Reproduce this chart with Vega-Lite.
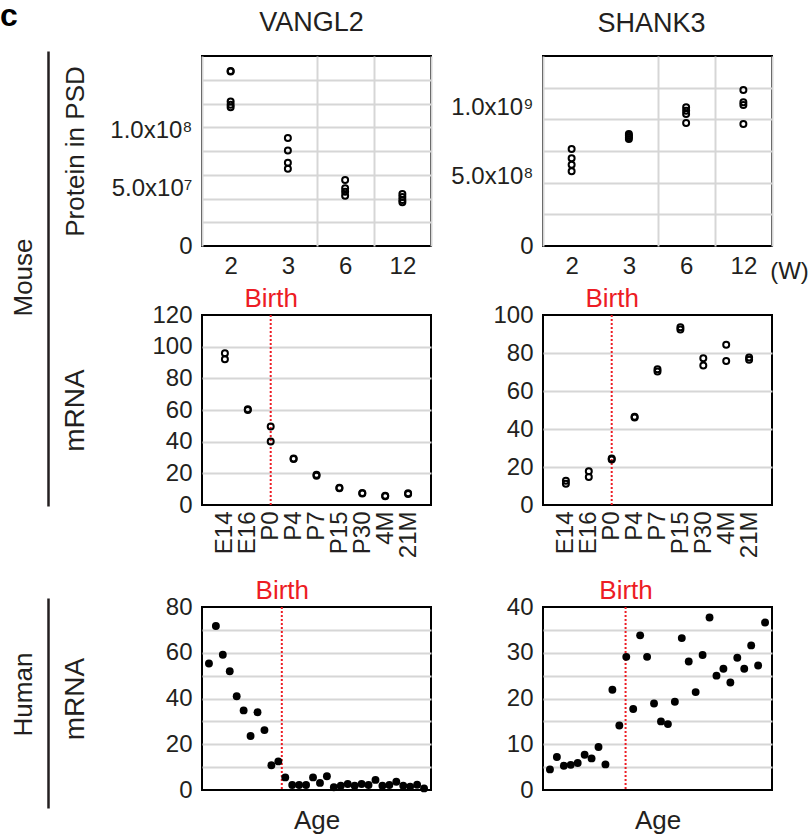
{
  "$schema": "https://vega.github.io/schema/vega-lite/v6.json",
  "padding": {"left": 0, "top": 0, "right": 0, "bottom": 0},
  "background": "white",
  "datasets": {
    "vangl2_psd": [
      {"week": 2, "protein": 152000000}, {"week": 2, "protein": 151500000}, {"week": 2, "protein": 125500000}, {"week": 2, "protein": 122600000}, {"week": 2, "protein": 120600000},
      {"week": 3, "protein": 93700000}, {"week": 3, "protein": 82900000}, {"week": 3, "protein": 72200000}, {"week": 3, "protein": 67000000},
      {"week": 6, "protein": 57400000}, {"week": 6, "protein": 50200000}, {"week": 6, "protein": 47200000}, {"week": 6, "protein": 43700000},
      {"week": 12, "protein": 45200000}, {"week": 12, "protein": 42600000}, {"week": 12, "protein": 40000000}, {"week": 12, "protein": 38000000}
    ],
    "shank3_psd": [
      {"week": 2, "protein": 699000000}, {"week": 2, "protein": 632000000}, {"week": 2, "protein": 586000000}, {"week": 2, "protein": 539000000},
      {"week": 3, "protein": 808000000}, {"week": 3, "protein": 795000000}, {"week": 3, "protein": 785000000}, {"week": 3, "protein": 772000000},
      {"week": 6, "protein": 1000000000}, {"week": 6, "protein": 976000000}, {"week": 6, "protein": 952000000}, {"week": 6, "protein": 887000000},
      {"week": 12, "protein": 1125000000}, {"week": 12, "protein": 1036000000}, {"week": 12, "protein": 1017000000}, {"week": 12, "protein": 880000000}
    ],
    "vangl2_mouse_mrna": [
      {"stage": "E14", "mrna": 95.8}, {"stage": "E14", "mrna": 92.1},
      {"stage": "E16", "mrna": 60.5}, {"stage": "E16", "mrna": 60.0},
      {"stage": "P0", "mrna": 49.6}, {"stage": "P0", "mrna": 40.1},
      {"stage": "P4", "mrna": 29.4}, {"stage": "P4", "mrna": 29.0},
      {"stage": "P7", "mrna": 19.1}, {"stage": "P7", "mrna": 18.5},
      {"stage": "P15", "mrna": 10.9}, {"stage": "P15", "mrna": 10.6},
      {"stage": "P30", "mrna": 7.6}, {"stage": "P30", "mrna": 7.3},
      {"stage": "4M", "mrna": 5.9}, {"stage": "4M", "mrna": 5.6},
      {"stage": "21M", "mrna": 7.4}, {"stage": "21M", "mrna": 6.9}
    ],
    "shank3_mouse_mrna": [
      {"stage": "E14", "mrna": 12.8}, {"stage": "E14", "mrna": 11.2},
      {"stage": "E16", "mrna": 17.8}, {"stage": "E16", "mrna": 14.7},
      {"stage": "P0", "mrna": 24.5}, {"stage": "P0", "mrna": 24.0},
      {"stage": "P4", "mrna": 46.5}, {"stage": "P4", "mrna": 46.0},
      {"stage": "P7", "mrna": 71.4}, {"stage": "P7", "mrna": 70.2},
      {"stage": "P15", "mrna": 93.6}, {"stage": "P15", "mrna": 92.4},
      {"stage": "P30", "mrna": 77.3}, {"stage": "P30", "mrna": 73.4},
      {"stage": "4M", "mrna": 84.4}, {"stage": "4M", "mrna": 75.8},
      {"stage": "21M", "mrna": 77.6}, {"stage": "21M", "mrna": 76.4}
    ],
    "birth_mouse": [{"stage": "P0", "event": "Birth"}],
    "vangl2_human_mrna": [
      {"sample": 1, "mrna": 55.3}, {"sample": 2, "mrna": 71.7}, {"sample": 3, "mrna": 59.1}, {"sample": 4, "mrna": 51.9},
      {"sample": 5, "mrna": 41.0}, {"sample": 6, "mrna": 34.8}, {"sample": 7, "mrna": 23.6}, {"sample": 8, "mrna": 34.0},
      {"sample": 9, "mrna": 26.2}, {"sample": 10, "mrna": 10.8}, {"sample": 11, "mrna": 12.5}, {"sample": 12, "mrna": 5.5},
      {"sample": 13, "mrna": 2.2}, {"sample": 14, "mrna": 2.2}, {"sample": 15, "mrna": 2.2}, {"sample": 16, "mrna": 5.5},
      {"sample": 17, "mrna": 3.1}, {"sample": 18, "mrna": 6.0}, {"sample": 19, "mrna": 1.2}, {"sample": 20, "mrna": 1.9},
      {"sample": 21, "mrna": 2.6}, {"sample": 22, "mrna": 1.9}, {"sample": 23, "mrna": 2.6}, {"sample": 24, "mrna": 2.2},
      {"sample": 25, "mrna": 4.4}, {"sample": 26, "mrna": 1.9}, {"sample": 27, "mrna": 2.2}, {"sample": 28, "mrna": 3.6},
      {"sample": 29, "mrna": 1.9}, {"sample": 30, "mrna": 1.5}, {"sample": 31, "mrna": 2.3}, {"sample": 32, "mrna": 0.7}
    ],
    "shank3_human_mrna": [
      {"sample": 1, "mrna": 4.5}, {"sample": 2, "mrna": 7.2}, {"sample": 3, "mrna": 5.3}, {"sample": 4, "mrna": 5.5},
      {"sample": 5, "mrna": 5.9}, {"sample": 6, "mrna": 7.7}, {"sample": 7, "mrna": 6.9}, {"sample": 8, "mrna": 9.4},
      {"sample": 9, "mrna": 5.6}, {"sample": 10, "mrna": 21.9}, {"sample": 11, "mrna": 14.1}, {"sample": 12, "mrna": 29.1},
      {"sample": 13, "mrna": 17.7}, {"sample": 14, "mrna": 33.8}, {"sample": 15, "mrna": 29.1}, {"sample": 16, "mrna": 18.9},
      {"sample": 17, "mrna": 15.0}, {"sample": 18, "mrna": 14.4}, {"sample": 19, "mrna": 19.3}, {"sample": 20, "mrna": 33.2},
      {"sample": 21, "mrna": 28.1}, {"sample": 22, "mrna": 21.4}, {"sample": 23, "mrna": 29.5}, {"sample": 24, "mrna": 37.7},
      {"sample": 25, "mrna": 25.0}, {"sample": 26, "mrna": 26.5}, {"sample": 27, "mrna": 23.5}, {"sample": 28, "mrna": 28.9},
      {"sample": 29, "mrna": 26.5}, {"sample": 30, "mrna": 31.6}, {"sample": 31, "mrna": 27.2}, {"sample": 32, "mrna": 36.6}
    ],
    "birth_human_vangl2": [{"sample": 11.5, "event": "Birth"}],
    "birth_human_shank3": [{"sample": 11.9, "event": "Birth"}],
    "species_mouse": [{"species": "Mouse"}],
    "species_human": [{"species": "Human"}]
  },
  "spacing": 17,
  "vconcat": [
    {
      "spacing": 7,
      "hconcat": [
        {
          "width": 4,
          "height": 450,
          "view": {"stroke": null},
          "title": {"text": "c", "anchor": "start", "frame": "group", "dx": -48, "offset": -2, "baseline": "alphabetic", "fontSize": 32, "fontWeight": "bold", "color": "#000000"},
          "data": {"name": "species_mouse"},
          "mark": {"type": "point", "opacity": 0},
          "encoding": {
            "y": {"datum": 0.5, "type": "quantitative", "scale": {"domain": [0, 1], "range": [450, -5], "nice": false},
              "axis": {"title": "Mouse", "labels": false, "ticks": false, "grid": false, "domain": true, "domainColor": "#231f20", "domainWidth": 2.5, "titleX": -25, "titleY": 221, "titleBaseline": "middle"}}
          }
        },
        {
          "columns": 2,
          "bounds": "flush",
          "spacing": {"row": 69, "column": 112},
          "concat": [
            {
              "width": 229, "height": 190,
              "title": {"text": "VANGL2", "offset": 7, "dx": -5},
              "data": {"name": "vangl2_psd"},
              "mark": {"type": "point", "shape": "circle", "filled": false, "color": "#000000", "strokeWidth": 2, "size": 36, "opacity": 1},
              "encoding": {
                "x": {"field": "week", "type": "ordinal", "scale": {"type": "band", "paddingInner": 0, "paddingOuter": 0},
                  "axis": {"title": null, "labelAngle": 0, "tickBand": "extent", "labelPadding": 8,
                    "gridOpacity": {"condition": {"test": "datum.value == 2", "value": 0}, "value": 1}}},
                "y": {"field": "protein", "type": "quantitative", "scale": {"domain": [0, 165000000], "nice": false},
                  "axis": {"title": "Protein in PSD", "titleX": -127, "titleBaseline": "middle",
                    "values": [0, 20625000, 41250000, 50000000, 61875000, 82500000, 100000000, 103125000, 123750000, 144375000, 165000000],
                    "labelExpr": "datum.value == 0 ? '0' : datum.value == 50000000 ? '5.0x10⁷' : datum.value == 100000000 ? '1.0x10⁸' : ''",
                    "gridOpacity": {"condition": {"test": "datum.value == 0 || datum.value == 50000000 || datum.value == 100000000 || datum.value == 165000000", "value": 0}, "value": 1}}}
              }
            },
            {
              "width": 229, "height": 190,
              "title": {"text": "SHANK3", "offset": 6, "dx": -6},
              "data": {"name": "shank3_psd"},
              "mark": {"type": "point", "shape": "circle", "filled": false, "color": "#000000", "strokeWidth": 2, "size": 36, "opacity": 1},
              "encoding": {
                "x": {"field": "week", "type": "ordinal", "scale": {"type": "band", "paddingInner": 0, "paddingOuter": 0},
                  "axis": {"title": "(W)", "titleX": 246, "titleY": 25, "titleAngle": 0, "titleAlign": "center", "titleBaseline": "middle", "titleFontSize": 24,
                    "labelAngle": 0, "tickBand": "extent", "labelPadding": 8,
                    "gridOpacity": {"condition": {"test": "datum.value == 2", "value": 0}, "value": 1}}},
                "y": {"field": "protein", "type": "quantitative", "scale": {"domain": [0, 1370000000], "nice": false},
                  "axis": {"title": null,
                    "values": [0, 228333333, 456666667, 500000000, 685000000, 913333333, 1000000000, 1141666667, 1370000000],
                    "labelExpr": "datum.value == 0 ? '0' : datum.value == 500000000 ? '5.0x10⁸' : datum.value == 1000000000 ? '1.0x10⁹' : ''",
                    "gridOpacity": {"condition": {"test": "datum.value == 0 || datum.value == 500000000 || datum.value == 1000000000 || datum.value == 1370000000", "value": 0}, "value": 1}}}
              }
            },
            {
              "width": 229, "height": 190,
              "layer": [
                {
                  "data": {"name": "birth_mouse"},
                  "mark": {"type": "rule", "color": "#ed1c24", "strokeWidth": 2, "strokeDash": [2, 2]},
                  "encoding": {
                    "x": {"field": "stage", "type": "ordinal", "scale": {"type": "point", "padding": 1, "domain": ["E14", "E16", "P0", "P4", "P7", "P15", "P30", "4M", "21M"]},
                      "axis": {"orient": "top", "values": ["P0"], "labelExpr": "'Birth'", "labelColor": "#ed1c24", "labelFontSize": 26, "labelAngle": 0, "labelPadding": 4, "grid": false, "title": null}}
                  }
                },
                {
                  "data": {"name": "vangl2_mouse_mrna"},
                  "mark": {"type": "point", "shape": "circle", "filled": false, "color": "#000000", "strokeWidth": 2, "size": 36, "opacity": 1},
                  "encoding": {
                    "x": {"field": "stage", "type": "ordinal", "scale": {"type": "point", "padding": 1, "domain": ["E14", "E16", "P0", "P4", "P7", "P15", "P30", "4M", "21M"]},
                      "axis": {"orient": "bottom", "title": null, "labelAngle": 270, "labelPadding": 6,
                        "gridOpacity": {"condition": {"test": "indexof(['E16','P4','P15','4M'], datum.value) >= 0", "value": 1}, "value": 0}}},
                    "y": {"field": "mrna", "type": "quantitative", "scale": {"domain": [0, 120], "nice": false},
                      "axis": {"title": "mRNA", "titleFontSize": 28, "titleX": -127, "titleBaseline": "middle", "values": [0, 20, 40, 60, 80, 100, 120],
                        "gridOpacity": {"condition": {"test": "datum.value == 0 || datum.value == 120", "value": 0}, "value": 1}}}
                  }
                }
              ],
              "resolve": {"axis": {"x": "independent"}}
            },
            {
              "width": 229, "height": 190,
              "layer": [
                {
                  "data": {"name": "birth_mouse"},
                  "mark": {"type": "rule", "color": "#ed1c24", "strokeWidth": 2, "strokeDash": [2, 2]},
                  "encoding": {
                    "x": {"field": "stage", "type": "ordinal", "scale": {"type": "point", "padding": 1, "domain": ["E14", "E16", "P0", "P4", "P7", "P15", "P30", "4M", "21M"]},
                      "axis": {"orient": "top", "values": ["P0"], "labelExpr": "'Birth'", "labelColor": "#ed1c24", "labelFontSize": 26, "labelAngle": 0, "labelPadding": 4, "grid": false, "title": null}}
                  }
                },
                {
                  "data": {"name": "shank3_mouse_mrna"},
                  "mark": {"type": "point", "shape": "circle", "filled": false, "color": "#000000", "strokeWidth": 2, "size": 36, "opacity": 1},
                  "encoding": {
                    "x": {"field": "stage", "type": "ordinal", "scale": {"type": "point", "padding": 1, "domain": ["E14", "E16", "P0", "P4", "P7", "P15", "P30", "4M", "21M"]},
                      "axis": {"orient": "bottom", "title": null, "labelAngle": 270, "labelPadding": 6,
                        "gridOpacity": {"condition": {"test": "indexof(['E16','P4','P15','4M'], datum.value) >= 0", "value": 1}, "value": 0}}},
                    "y": {"field": "mrna", "type": "quantitative", "scale": {"domain": [0, 100], "nice": false},
                      "axis": {"title": null, "values": [0, 20, 40, 60, 80, 100],
                        "gridOpacity": {"condition": {"test": "datum.value == 0 || datum.value == 100", "value": 0}, "value": 1}}}
                  }
                }
              ],
              "resolve": {"axis": {"x": "independent"}}
            }
          ]
        }
      ]
    },
    {
      "spacing": 7,
      "hconcat": [
        {
          "width": 4,
          "height": 183,
          "view": {"stroke": null},
          "data": {"name": "species_human"},
          "mark": {"type": "point", "opacity": 0},
          "encoding": {
            "y": {"datum": 0.5, "type": "quantitative", "scale": {"domain": [0, 1], "range": [201, -9], "nice": false},
              "axis": {"title": "Human", "labels": false, "ticks": false, "grid": false, "domain": true, "domainColor": "#231f20", "domainWidth": 2.5, "titleX": -25, "titleY": 87, "titleBaseline": "middle"}}
          }
        },
        {
          "bounds": "flush",
          "spacing": 112,
          "hconcat": [
            {
              "width": 229, "height": 183,
              "layer": [
                {
                  "data": {"name": "birth_human_vangl2"},
                  "mark": {"type": "rule", "color": "#ed1c24", "strokeWidth": 2, "strokeDash": [2, 2]},
                  "encoding": {
                    "x": {"field": "sample", "type": "quantitative", "scale": {"domain": [0, 33], "nice": false, "zero": false},
                      "axis": {"orient": "top", "values": [11.5], "labelExpr": "'Birth'", "labelColor": "#ed1c24", "labelFontSize": 26, "labelPadding": 4, "grid": false, "title": null}}
                  }
                },
                {
                  "data": {"name": "vangl2_human_mrna"},
                  "mark": {"type": "circle", "color": "#000000", "size": 62, "opacity": 1},
                  "encoding": {
                    "x": {"field": "sample", "type": "quantitative", "scale": {"domain": [0, 33], "nice": false, "zero": false},
                      "axis": {"orient": "bottom", "title": "Age", "titlePadding": 17, "labels": false, "values": [10, 20, 30]}},
                    "y": {"field": "mrna", "type": "quantitative", "scale": {"domain": [0, 80], "nice": false},
                      "axis": {"title": "mRNA", "titleFontSize": 28, "titleX": -127, "titleBaseline": "middle", "values": [0, 10, 20, 30, 40, 50, 60, 70, 80],
                        "labelExpr": "datum.value % 20 == 0 ? datum.label : ''",
                        "gridOpacity": {"condition": {"test": "datum.value == 0 || datum.value == 80", "value": 0}, "value": 1}}}
                  }
                }
              ],
              "resolve": {"axis": {"x": "independent"}}
            },
            {
              "width": 229, "height": 183,
              "layer": [
                {
                  "data": {"name": "birth_human_shank3"},
                  "mark": {"type": "rule", "color": "#ed1c24", "strokeWidth": 2, "strokeDash": [2, 2]},
                  "encoding": {
                    "x": {"field": "sample", "type": "quantitative", "scale": {"domain": [0, 33], "nice": false, "zero": false},
                      "axis": {"orient": "top", "values": [11.9], "labelExpr": "'Birth'", "labelColor": "#ed1c24", "labelFontSize": 26, "labelPadding": 4, "grid": false, "title": null}}
                  }
                },
                {
                  "data": {"name": "shank3_human_mrna"},
                  "mark": {"type": "circle", "color": "#000000", "size": 62, "opacity": 1},
                  "encoding": {
                    "x": {"field": "sample", "type": "quantitative", "scale": {"domain": [0, 33], "nice": false, "zero": false},
                      "axis": {"orient": "bottom", "title": "Age", "titlePadding": 17, "labels": false, "values": [10, 20, 30]}},
                    "y": {"field": "mrna", "type": "quantitative", "scale": {"domain": [0, 40], "nice": false},
                      "axis": {"title": null, "values": [0, 5, 10, 15, 20, 25, 30, 35, 40],
                        "labelExpr": "datum.value % 10 == 0 ? datum.label : ''",
                        "gridOpacity": {"condition": {"test": "datum.value == 0 || datum.value == 40", "value": 0}, "value": 1}}}
                  }
                }
              ],
              "resolve": {"axis": {"x": "independent"}}
            }
          ]
        }
      ]
    }
  ],
  "config": {
    "font": "Liberation Sans",
    "view": {"stroke": "#000000", "strokeWidth": 2},
    "axis": {
      "labelFont": "Liberation Sans", "titleFont": "Liberation Sans",
      "labelFontSize": 24, "titleFontSize": 26, "titleFontWeight": "normal",
      "labelColor": "#231f20", "titleColor": "#231f20",
      "ticks": false, "domain": false, "grid": true,
      "gridColor": "#d6d6d6", "gridWidth": 2,
      "labelPadding": 10, "labelFlush": false, "labelOverlap": false
    },
    "title": {"font": "Liberation Sans", "fontSize": 27, "fontWeight": "normal", "color": "#231f20", "baseline": "alphabetic"}
  }
}
